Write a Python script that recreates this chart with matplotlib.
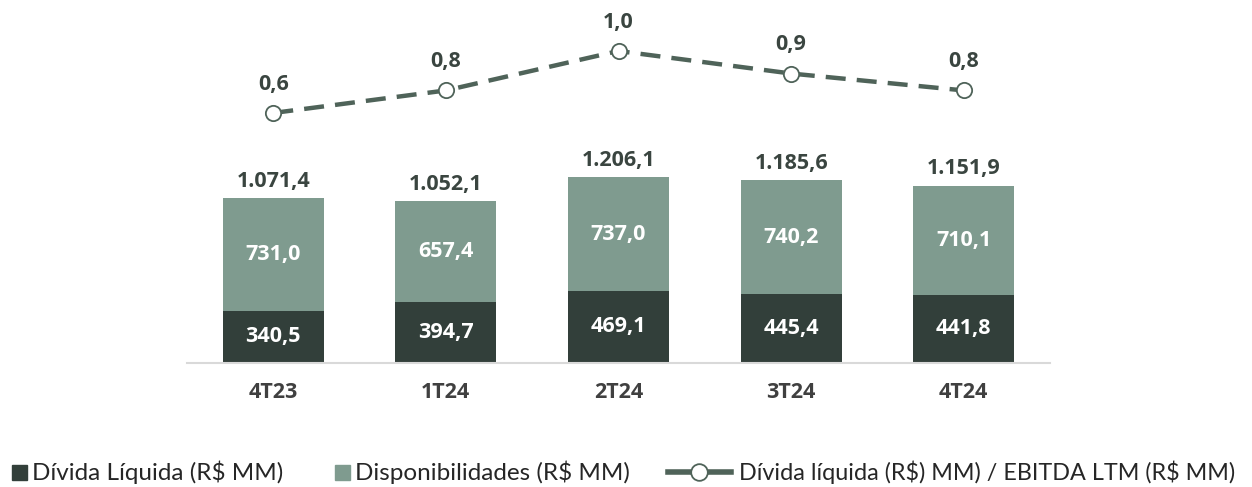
import numpy as np
import matplotlib.pyplot as plt
from matplotlib.lines import Line2D
from matplotlib.patches import Rectangle

plt.rcParams['font.family'] = ['Open Sans', 'DejaVu Sans']
plt.rcParams['text.parse_math'] = False

# data
quarters = ['4T23', '1T24', '2T24', '3T24', '4T24']
divida_liquida = [340.5, 394.7, 469.1, 445.4, 441.8]
disponibilidades = [731.0, 657.4, 737.0, 740.2, 710.1]
totais = [1071.4, 1052.1, 1206.1, 1185.6, 1151.9]
alavancagem = [0.60, 0.76, 1.04, 0.88, 0.76]
alavancagem_labels = ['0,6', '0,8', '1,0', '0,9', '0,8']
legend_labels = ['Dívida Líquida (R$ MM)', 'Disponibilidades (R$ MM)',
                 'Dívida líquida (R$) MM) / EBITDA LTM (R$ MM)']

dark = '#323f3a'
light = '#7f9b8f'
line_col = '#4f6359'
txt_col = '#3a4540'

W, H = 1252, 487


def br(v):
    s = f'{v:,.1f}'
    return s.replace(',', 'X').replace('.', ',').replace('X', '.')


fig = plt.figure(figsize=(W / 100, H / 100), dpi=100)
ax = fig.add_axes([187 / W, 1 - 363 / H, 863 / W, 363 / H])
x = np.arange(len(quarters))
w = 0.585

ax.bar(x, divida_liquida, w, color=dark)
ax.bar(x, disponibilidades, w, bottom=divida_liquida, color=light)

for i in range(len(x)):
    ax.text(x[i], divida_liquida[i] / 2, br(divida_liquida[i]), ha='center', va='center',
            color='white', fontsize=15.5, fontweight='bold')
    ax.text(x[i], divida_liquida[i] + disponibilidades[i] / 2, br(disponibilidades[i]),
            ha='center', va='center', color='white', fontsize=15.5, fontweight='bold')
    ax.text(x[i], totais[i] + 40, br(totais[i]), ha='center', va='bottom',
            color=txt_col, fontsize=15.5, fontweight='bold')

ax.set_xlim(-0.5, 4.5)
ax.set_ylim(0, 2357)
ax.set_xticks(x)
ax.set_xticklabels(quarters, fontsize=15.5, fontweight='bold', color='#404040')
ax.tick_params(axis='x', length=0, pad=14)
ax.set_yticks([])
for s in ['top', 'right', 'left']:
    ax.spines[s].set_visible(False)
ax.spines['bottom'].set_color('#d9d9d9')
ax.spines['bottom'].set_linewidth(1.5)

ax2 = ax.twinx()
ax2.plot(x, alavancagem, color=line_col, lw=3.2, ls=(0, (4.5, 2.5)),
         marker='o', ms=11, mfc='white', mec=line_col, mew=1.3)
for i in range(len(x)):
    ax2.annotate(alavancagem_labels[i], (x[i], alavancagem[i]), xytext=(0, 13),
                 textcoords='offset points', ha='center', va='bottom',
                 color=txt_col, fontsize=15.5, fontweight='bold')
ax2.set_ylim(-1.175, 1.402)
ax2.axis('off')

# legend drawn by hand (pixel positions of the reference)
ly = 1 - 472 / H
fig.add_artist(Rectangle((12 / W, ly - 8 / H), 15 / W, 15 / H, color=dark,
                         transform=fig.transFigure))
fig.add_artist(Rectangle((335 / W, ly - 8 / H), 15 / W, 15 / H, color=light,
                         transform=fig.transFigure))
fig.add_artist(Line2D([668 / W, 731 / W], [ly, ly], color=line_col, lw=4,
                      transform=fig.transFigure))
fig.add_artist(Line2D([699 / W], [ly], ls='none', marker='o', ms=12, mfc='white',
                      mec=line_col, mew=1.3, transform=fig.transFigure))
for lab, x0, fs in zip(legend_labels, [32, 355, 739], [17.5, 17.5, 16.8]):
    fig.text(x0 / W, ly, lab, ha='left', va='center', fontsize=fs,
             family=['Lato', 'DejaVu Sans'], color='#262626')

fig.savefig('out.png', dpi=100)
